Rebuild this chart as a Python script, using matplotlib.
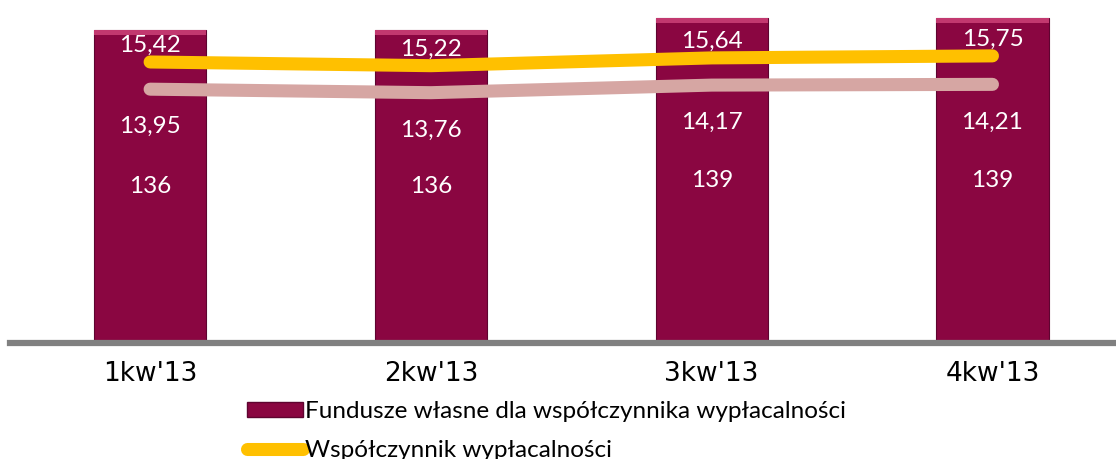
import matplotlib.pyplot as plt
from matplotlib.lines import Line2D
from matplotlib.patches import Patch

plt.rcParams["font.family"] = ["Lato", "DejaVu Sans"]

quarters = ["1kw'13", "2kw'13", "3kw'13", "4kw'13"]
fundusze = [136, 136, 139, 139]
wsp = [15.42, 15.22, 15.64, 15.75]
wsp_tier1 = [13.95, 13.76, 14.17, 14.21]

BAR = "#8A0641"
BEVEL = "#C2386F"
YELLOW = "#FFC000"
PINK = "#D6A6A3"

W, H = 1116, 459
fig = plt.figure(figsize=(W / 100, H / 100), dpi=100)
ax = fig.add_axes([10 / W, (H - 343) / H, (W - 10) / W, 343 / H])

x = list(range(len(quarters)))
ax.bar(x, fundusze, width=0.4, bottom=0, color=BAR, edgecolor="#5E0430",
       linewidth=0.8, zorder=2)
# bevel highlight along the top of each bar
ax.bar(x, [1.2] * 4, width=0.4, bottom=[v - 1.2 for v in fundusze],
       color=BEVEL, linewidth=0, zorder=2.5)
ax.set_ylim(60, 143.3)
ax.set_xlim(-0.499, 3.44)
for i, v in enumerate(fundusze):
    ax.text(i, (v + 60) / 2, f"{v}", ha="center", va="center", color="white",
            fontsize=17.5, zorder=6)

for s in ["top", "right", "left"]:
    ax.spines[s].set_visible(False)
ax.spines["bottom"].set_color("#808080")
ax.spines["bottom"].set_linewidth(4.5)
ax.set_yticks([])
ax.set_xticks(x)
ax.set_xticklabels(quarters, fontsize=19, family="DejaVu Sans")
ax.tick_params(axis="x", length=0, pad=13)

ax2 = ax.twinx()
ax2.set_position(ax.get_position())
ax2.set_ylim(0.23, 18.77)
ax2.axis("off")
ax2.plot(x, wsp_tier1, color=PINK, linewidth=9.4, solid_capstyle="round",
         zorder=3)
ax2.plot(x, wsp, color=YELLOW, linewidth=9.4, solid_capstyle="round",
         zorder=4)
for i in x:
    ax2.annotate(f"{wsp[i]:.2f}".replace(".", ","), (i, wsp[i]),
                 xytext=(0, 12), textcoords="offset points", ha="center",
                 va="center", color="white", fontsize=17.5, zorder=6)
    ax2.annotate(f"{wsp_tier1[i]:.2f}".replace(".", ","), (i, wsp_tier1[i]),
                 xytext=(0, -27), textcoords="offset points", ha="center",
                 va="center", color="white", fontsize=17.5, zorder=6)

handles = [Patch(facecolor=BAR, edgecolor="#5E0430"),
           Line2D([0], [0], color=YELLOW, linewidth=9.4,
                  solid_capstyle="round")]
labels = ["Fundusze własne dla współczynnika wypłacalności",
          "Współczynnik wypłacalności"]
fig.legend(handles, labels, loc="upper left",
           bbox_to_anchor=(235 / W, (H - 389) / H), frameon=False,
           fontsize=17.5, handlelength=2.3, handleheight=0.6,
           handletextpad=0.1, labelspacing=0.75, borderpad=0)

fig.savefig("out.png", dpi=100)
